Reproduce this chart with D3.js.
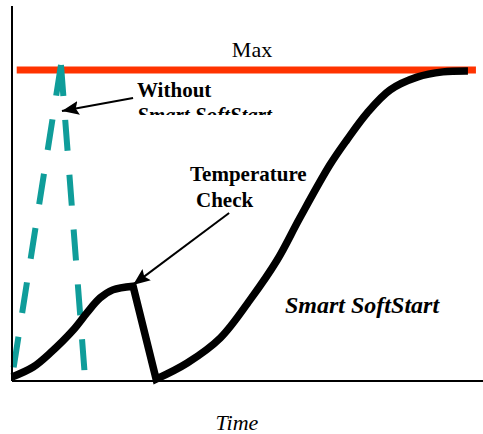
<!DOCTYPE html>
<html>
<head>
<meta charset="utf-8">
<script src="https://cdn.jsdelivr.net/npm/d3@7"></script>
<style>
  body { margin: 0; background: #fff; }
  svg text { font-family: "Liberation Serif", "Times New Roman", serif; fill: #000; }
</style>
</head>
<body>
<div id="chart"></div>
<script>
// time runs 0..100, temperature in % of Max
var maxLevel = 100;
var maxSpan = [1, 98.5];

// without soft start: straight up to max and back down
var withoutTimes = [0, 10.4, 15.5];
var withoutValues = [1, 101.6, 1];

// smart soft start, before the temperature check
var phase1Times = [0, 4.5, 8.1, 13.0, 15.9, 18.7, 21.4, 25.7];
var phase1Values = [1.3, 4.5, 9.0, 16.4, 21.9, 26.7, 29.3, 30.5];

// after the check, restart and climb to max
var phase2Times = [30.6, 37.2, 44.2, 50.5, 56.3, 61.1, 67.5, 71.1, 75.4, 80.3, 86.0, 91.5, 96.8];
var phase2Values = [0.6, 5.8, 13.8, 26.0, 38.9, 52.4, 69.5, 77.5, 86.2, 93.6, 97.7, 99.4, 99.7];

const width = 483, height = 434;

var svg = d3.select("#chart").append("svg")
  .attr("width", width)
  .attr("height", height);

var x = d3.scaleLinear().domain([0, 100]).range([12, 483]);
var y = d3.scaleLinear().domain([0, 100]).range([381, 70]);

var defs = svg.append("defs");
defs.append("marker")
  .attr("id", "arrow")
  .attr("markerUnits", "userSpaceOnUse")
  .attr("markerWidth", 20).attr("markerHeight", 16)
  .attr("refX", 17).attr("refY", 7)
  .attr("orient", "auto")
  .append("path")
  .attr("d", "M0,0 L17,7 L0,14 L3,7 Z")
  .attr("fill", "#000");

defs.append("clipPath").attr("id", "cut")
  .append("rect").attr("x", 0).attr("y", 0).attr("width", width).attr("height", 115);

// Max line
svg.append("line")
  .attr("x1", x(maxSpan[0])).attr("x2", x(maxSpan[1]))
  .attr("y1", y(maxLevel)).attr("y2", y(maxLevel))
  .attr("stroke", "#ff3300")
  .attr("stroke-width", 7);

// teal dashed spike, each leg dashed from the peak down
var peak = 1;
[0, 2].forEach(function (i) {
  svg.append("line")
    .attr("x1", x(withoutTimes[peak])).attr("y1", y(withoutValues[peak]))
    .attr("x2", x(withoutTimes[i])).attr("y2", y(withoutValues[i]))
    .attr("stroke", "#0f9d9a")
    .attr("stroke-width", 6)
    .attr("stroke-dasharray", "31,24");
});

// black soft start curve
var line = d3.line()
  .x(function (d) { return x(d[0]); })
  .y(function (d) { return y(d[1]); })
  .curve(d3.curveCatmullRom.alpha(0.5));

var p1 = line(d3.zip(phase1Times, phase1Values));
var p2 = line(d3.zip(phase2Times, phase2Values)).replace(/^M/, "L");

svg.append("path")
  .attr("d", p1 + p2)
  .attr("fill", "none")
  .attr("stroke", "#000")
  .attr("stroke-width", 7.5)
  .attr("stroke-linejoin", "miter");

// axes (plain lines, no ticks)
svg.append("line")
  .attr("x1", x(0)).attr("x2", x(0))
  .attr("y1", 6).attr("y2", y(0))
  .attr("stroke", "#000").attr("stroke-width", 2);
svg.append("line")
  .attr("x1", x(0)).attr("x2", width)
  .attr("y1", y(0)).attr("y2", y(0))
  .attr("stroke", "#000").attr("stroke-width", 2);

// labels
svg.append("text")
  .attr("x", 252).attr("y", 57)
  .attr("text-anchor", "middle")
  .style("font-size", "22px")
  .text("Max");

svg.append("text")
  .attr("x", 137).attr("y", 97)
  .style("font-size", "21px").style("font-weight", "bold")
  .text("Without");
svg.append("text")
  .attr("x", 137).attr("y", 122)
  .attr("clip-path", "url(#cut)")
  .style("font-size", "21px").style("font-weight", "bold").style("font-style", "italic")
  .text("Smart SoftStart");

svg.append("text")
  .attr("x", 190).attr("y", 181)
  .style("font-size", "21px").style("font-weight", "bold")
  .text("Temperature");
svg.append("text")
  .attr("x", 196).attr("y", 207)
  .style("font-size", "21px").style("font-weight", "bold")
  .text("Check");

svg.append("text")
  .attr("x", 285).attr("y", 313)
  .style("font-size", "24px").style("font-weight", "bold").style("font-style", "italic")
  .text("Smart SoftStart");

svg.append("text")
  .attr("x", 237).attr("y", 430)
  .attr("text-anchor", "middle")
  .style("font-size", "22px").style("font-style", "italic")
  .text("Time");

// annotation arrows
svg.append("line")
  .attr("x1", x(25.7)).attr("y1", y(91))
  .attr("x2", x(10.6)).attr("y2", y(86.8))
  .attr("stroke", "#000").attr("stroke-width", 2)
  .attr("marker-end", "url(#arrow)");
svg.append("line")
  .attr("x1", x(46.1)).attr("y1", y(54))
  .attr("x2", x(25.7)).attr("y2", y(30.9))
  .attr("stroke", "#000").attr("stroke-width", 2)
  .attr("marker-end", "url(#arrow)");
</script>
</body>
</html>
